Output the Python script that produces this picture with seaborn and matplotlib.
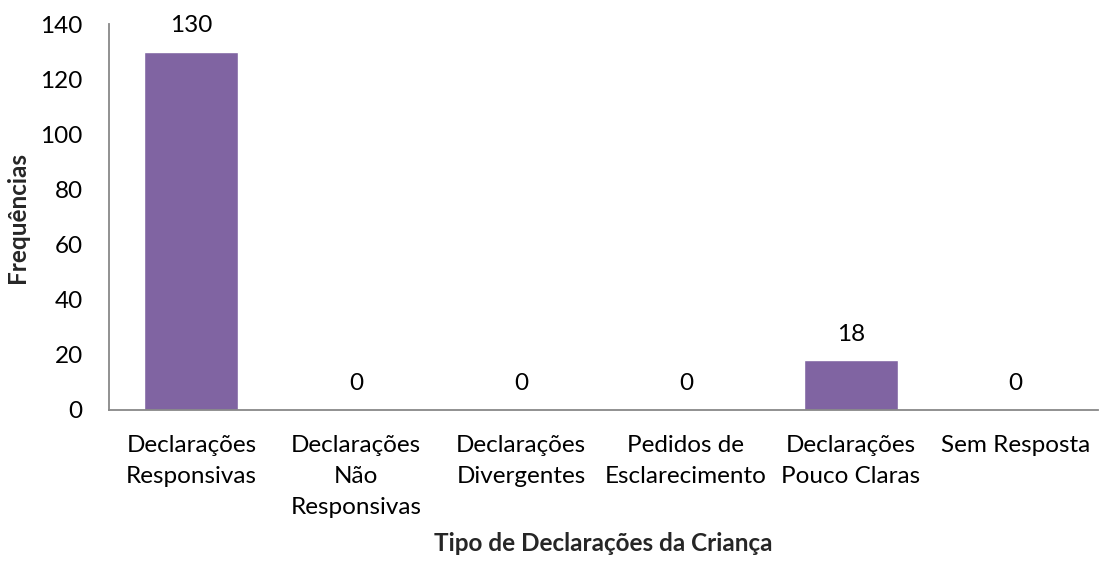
"""Frequência por tipo de declaração da criança."""

import matplotlib
matplotlib.use("Agg")
import matplotlib.pyplot as plt
import pandas as pd
import seaborn as sns

CATEGORIES = [
    "Declarações\nResponsivas",
    "Declarações\nNão\nResponsivas",
    "Declarações\nDivergentes",
    "Pedidos de\nEsclarecimento",
    "Declarações\nPouco Claras",
    "Sem Resposta",
]
FREQUENCIES = [130, 0, 0, 0, 18, 0]

BAR_COLOR = "#8064A2"
FS = 17.5


def main() -> None:
    sns.set_theme(style="white")
    plt.rcParams["font.family"] = ["Lato", "DejaVu Sans"]

    df = pd.DataFrame({"tipo": CATEGORIES, "freq": FREQUENCIES})

    fig = plt.figure(figsize=(10.99, 5.63), dpi=100)
    ax = fig.add_axes([0.0992, 0.2718, 0.9, 0.685])

    sns.barplot(data=df, x="tipo", y="freq", color=BAR_COLOR, width=0.57,
                saturation=1, ax=ax)

    for i, v in enumerate(FREQUENCIES):
        ax.text(i, v + 9.5, str(v), ha="center", va="center", fontsize=FS,
                color="black")

    ax.set_ylim(0, 140)
    ax.set_xlim(-0.5, len(CATEGORIES) - 0.5)
    ax.set_yticks(range(0, 141, 20))
    ax.tick_params(axis="both", length=0, labelsize=FS, colors="black")
    ax.tick_params(axis="x", pad=18)
    ax.tick_params(axis="y", pad=19)
    for lbl in ax.get_xticklabels():
        lbl.set_linespacing(1.6)

    for side in ("top", "right"):
        ax.spines[side].set_visible(False)
    for side in ("left", "bottom"):
        ax.spines[side].set_color("#888888")
        ax.spines[side].set_linewidth(1.3)

    ax.set_xlabel("Tipo de Declarações da Criança", fontsize=FS,
                  fontweight="bold", labelpad=10)
    ax.set_ylabel("Frequências", fontsize=FS, fontweight="bold", labelpad=8)

    fig.savefig("out.png", dpi=100)
    plt.close(fig)


if __name__ == "__main__":
    main()
